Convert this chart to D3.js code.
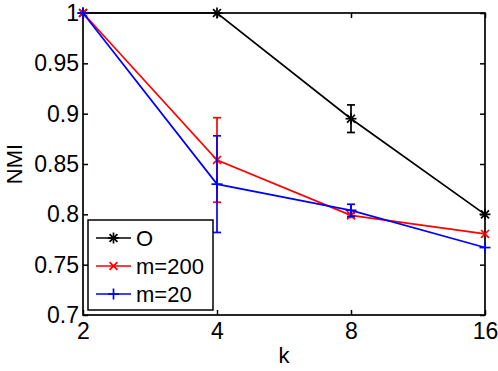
<!DOCTYPE html>
<html>
<head>
<meta charset="utf-8">
<script src="https://cdn.jsdelivr.net/npm/d3@7"></script>
<style>
  body { margin: 0; background: #fff; }
  text { font-family: "Liberation Sans", Arial, sans-serif; }
</style>
</head>
<body>
<div id="chart"></div>
<script>
// data
var kValues = [2, 4, 8, 16];
var yTicks = [0.7, 0.75, 0.8, 0.85, 0.9, 0.95, 1];
var seriesNames = ["O", "m=200", "m=20"];
var nmiO = [1, 1, 0.895, 0.800];
var errO = [0, 0, 0.0137, 0];
var nmiM200 = [1, 0.854, 0.799, 0.7805];
var errM200 = [0, 0.042, 0.002, 0];
var nmiM20 = [1, 0.830, 0.804, 0.767];
var errM20 = [0, 0.048, 0.006, 0];

var w = 498, h = 371;
var margin = {left: 83, right: 13, top: 13, bottom: 56};

var svg = d3.select("#chart").append("svg")
    .attr("width", w).attr("height", h);

var x = d3.scaleLog().base(2).domain([2, 16]).range([margin.left, w - margin.right]);
var y = d3.scaleLinear().domain([0.7, 1]).range([h - margin.bottom, margin.top]);

var series = [
  {name: seriesNames[0], vals: nmiO, errs: errO, color: "#000000", marker: "star"},
  {name: seriesNames[1], vals: nmiM200, errs: errM200, color: "#ff0000", marker: "x"},
  {name: seriesNames[2], vals: nmiM20, errs: errM20, color: "#0000ff", marker: "plus"}
];

// axes (inside ticks on all four sides)
var tickLen = 5;
var xAxisB = d3.axisBottom(x).tickValues(kValues).tickFormat(d3.format("d")).tickSizeInner(-tickLen).tickSizeOuter(0).tickPadding(8);
var xAxisT = d3.axisTop(x).tickValues(kValues).tickFormat("").tickSizeInner(-tickLen).tickSizeOuter(0);
var yAxisL = d3.axisLeft(y).tickValues(yTicks).tickFormat(function(d){ return d3.format("")(+d.toFixed(2)); }).tickSizeInner(-tickLen).tickSizeOuter(0).tickPadding(4);
var yAxisR = d3.axisRight(y).tickValues(yTicks).tickFormat("").tickSizeInner(-tickLen).tickSizeOuter(0);

function styleAxis(g) {
  g.select(".domain").remove();
  g.selectAll(".tick line").attr("stroke", "#000").attr("stroke-width", 1.5);
  g.selectAll("text").attr("fill", "#000").style("font-size", "23px");
}

svg.append("g").attr("transform", "translate(0," + y(0.7) + ")").call(xAxisB).call(styleAxis);
svg.append("g").attr("transform", "translate(0," + y(1) + ")").call(xAxisT).call(styleAxis);
svg.append("g").attr("transform", "translate(" + x(2) + ",0)").call(yAxisL).call(styleAxis);
svg.append("g").attr("transform", "translate(" + x(16) + ",0)").call(yAxisR).call(styleAxis);

svg.append("rect")
    .attr("x", x(2)).attr("y", y(1))
    .attr("width", x(16) - x(2)).attr("height", y(0.7) - y(1))
    .attr("fill", "none").attr("stroke", "#000").attr("stroke-width", 1.7);

// axis labels
svg.append("text")
    .attr("x", (x(2) + x(16)) / 2).attr("y", 363)
    .attr("text-anchor", "middle").style("font-size", "22px").text("k");
svg.append("text")
    .attr("transform", "translate(22," + ((y(1) + y(0.7)) / 2) + ") rotate(-90)")
    .attr("text-anchor", "middle").style("font-size", "22px").text("NMI");

// markers
function drawMarker(g, type, cx, cy, color, r) {
  var m = g.append("g").attr("transform", "translate(" + cx + "," + cy + ")")
      .attr("stroke", color).attr("stroke-width", 1.7).attr("fill", "none");
  var d = r * 0.72;
  if (type === "plus" || type === "star") {
    m.append("line").attr("x1", -r).attr("x2", r).attr("y1", 0).attr("y2", 0);
    m.append("line").attr("x1", 0).attr("x2", 0).attr("y1", -r).attr("y2", r);
  }
  if (type === "x" || type === "star") {
    m.append("line").attr("x1", -d).attr("x2", d).attr("y1", -d).attr("y2", d);
    m.append("line").attr("x1", -d).attr("x2", d).attr("y1", d).attr("y2", -d);
  }
}

var line = d3.line().x(function(d){ return x(d[0]); }).y(function(d){ return y(d[1]); });

series.forEach(function(s) {
  var g = svg.append("g");
  var pts = kValues.map(function(k, i){ return [k, s.vals[i], s.errs[i]]; });
  // error bars
  pts.forEach(function(p) {
    if (p[2] <= 0) return;
    var cx = x(p[0]), y1 = y(p[1] + p[2]), y2 = y(p[1] - p[2]);
    g.append("line").attr("x1", cx).attr("x2", cx).attr("y1", y1).attr("y2", y2)
        .attr("stroke", s.color).attr("stroke-width", 1.7);
    [y1, y2].forEach(function(yy) {
      g.append("line").attr("x1", cx - 4).attr("x2", cx + 4).attr("y1", yy).attr("y2", yy)
          .attr("stroke", s.color).attr("stroke-width", 1.7);
    });
  });
  g.append("path").datum(pts).attr("d", line)
      .attr("fill", "none").attr("stroke", s.color).attr("stroke-width", 1.7);
  pts.forEach(function(p) {
    drawMarker(g, s.marker, x(p[0]), y(p[1]), s.color, 5.5);
  });
});

// legend
var lg = svg.append("g");
lg.append("rect").attr("x", 88).attr("y", 220).attr("width", 125).attr("height", 90)
    .attr("fill", "#fff").attr("stroke", "#000").attr("stroke-width", 1.5);
series.forEach(function(s, i) {
  var ly = 238 + i * 28;
  lg.append("line").attr("x1", 96).attr("x2", 131).attr("y1", ly).attr("y2", ly)
      .attr("stroke", s.color).attr("stroke-width", 1.6);
  drawMarker(lg, s.marker, 113.5, ly, s.color, 5.5);
  lg.append("text").attr("x", 136).attr("y", ly).attr("dy", "0.36em")
      .style("font-size", "22px").text(s.name);
});
</script>
</body>
</html>
